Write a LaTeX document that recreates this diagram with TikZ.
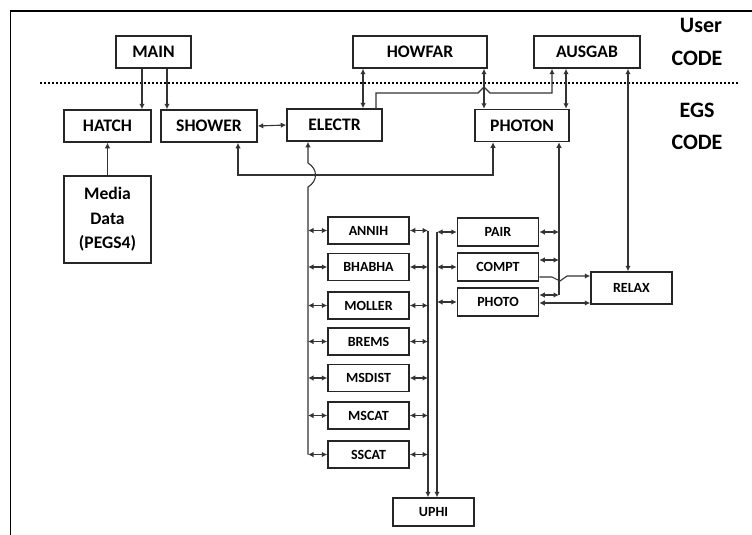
\documentclass[tikz,border=0pt]{standalone}
\usepackage{fontspec}
\setmainfont{Carlito}
\usetikzlibrary{arrows.meta,calc,positioning}

\begin{document}
\begin{tikzpicture}[x=1pt,y=-1pt,
    box/.style={draw=black!85, line width=1.5pt, minimum height=32pt, inner sep=0pt, font=\fontsize{17.6}{21}\selectfont\bfseries},
    sbox/.style={box, minimum width=81pt, minimum height=27pt, font=\fontsize{14}{17}\selectfont\bfseries},
    conn/.style={draw=black!80, line width=1.1pt},
    arr/.style={conn, -{Latex[length=5.5pt,width=5.5pt]}},
    darr/.style={conn, {Latex[length=5.5pt,width=5.5pt]}-{Latex[length=5.5pt,width=5.5pt]}},
    side/.style={font=\fontsize{22}{26}\selectfont\bfseries}]
    \useasboundingbox (0,0) rectangle (752,535);
    \draw[line width=1.8pt] (10.5,535) -- (10.5,11) -- (752,11); % Frame
    \draw[line width=1.6pt, dash pattern=on 1.6pt off 2.4pt] (40,83) -- (739,83);

    % Side labels
    \node[side] (user) at (701,25) {User};
    \node[side] (ucode) at (697,58) {CODE};
    \node[side] (egs) at (697,110) {EGS};
    \node[side] (ecode) at (697,142) {CODE};

    % User code
    \node[box, minimum width=75pt] (main) at (153.5,52) {MAIN};
    \node[box, minimum width=134pt] (howfar) at (420,52) {HOWFAR};
    \node[box, minimum width=106pt] (ausgab) at (587,52) {AUSGAB};

    % EGS code
    \node[box, minimum width=87pt] (hatch) at (107.5,126) {HATCH};
    \node[box, minimum width=96pt] (shower) at (209,126) {SHOWER};
    \node[box, minimum width=95pt] (electr) at (334.5,125) {ELECTR};
    \node[box, minimum width=94pt] (photon) at (522,125.5) {PHOTON};
    \node[box, minimum width=87pt, minimum height=87pt, align=center, font=\fontsize{17.6}{24.5}\selectfont\bfseries] (media) at (107.5,219.5) {Media\\Data\\(PEGS4)};

    % Electron routines
    \node[sbox] (annih) at (368.5,230.5) {ANNIH};
    \node[sbox] (bhabha) at (368.5,267) {BHABHA};
    \node[sbox] (moller) at (368.5,305.5) {MOLLER};
    \node[sbox] (brems) at (368.5,341.5) {BREMS};
    \node[sbox] (msdist) at (368.5,378) {MSDIST};
    \node[sbox] (mscat) at (368.5,415.5) {MSCAT};
    \node[sbox] (sscat) at (368.5,454.5) {SSCAT};

    % Photon routines
    \node[sbox, minimum height=28pt] (pair) at (498,232) {PAIR};
    \node[sbox, minimum height=28pt] (compt) at (498,267) {COMPT};
    \node[sbox, minimum height=28pt] (photo) at (498,302) {PHOTO};
    \node[sbox, minimum height=32pt] (relax) at (631.5,288) {RELAX};
    \node[sbox, minimum height=28pt] (uphi) at (433.5,512) {UPHI};

    % Calls from MAIN
    \draw[arr] (142,0 |- main.south) -- (142,0 |- hatch.north);
    \draw[arr] (167,0 |- main.south) -- (167,0 |- shower.north);
    \draw[arr] (media.north) -- (hatch.south);
    \draw[darr] (shower.east) -- (electr.west);

    % User code links
    \draw[darr] (363,0 |- electr.north) -- (363,0 |- howfar.south);
    \draw[arr] (376,0 |- electr.north) -- (376,93) -- (478,93) -- (484,87) -- (490,93) -- (552,93) -- (552,0 |- ausgab.south);
    \draw[darr] (484,0 |- photon.north) -- (484,0 |- howfar.south);
    \draw[darr] (566,0 |- photon.north) -- (566,0 |- ausgab.south);
    \draw[darr] (628,0 |- ausgab.south) -- (628,0 |- relax.north);

    % SHOWER to PHOTON
    \draw[darr] (238,0 |- shower.south) -- (238,175) -- (493,175) -- (493,0 |- photon.south);

    % Electron bus
    \draw[arr] (308,0 |- sscat.west) -- (308,187) .. controls (318,181) and (318,169) .. (308,163) -- (308,0 |- electr.south);
    \foreach \n in {annih,bhabha,moller,brems,msdist,mscat,sscat}{
        \draw[darr] (308,0 |- \n.west) -- (\n.west);
        \draw[darr] (\n.east) -- (428,0 |- \n.east);
    }
    \draw[arr] (428,0 |- annih.east) -- (428,0 |- uphi.north);

    % Photon bus
    \draw[arr] (437,0 |- pair.west) -- (437,0 |- uphi.north);
    \foreach \n in {pair,compt,photo}{
        \draw[darr] (437,0 |- \n.west) -- (\n.west);
    }
    \draw[darr] (pair.east) -- (559,0 |- pair.east);
    \draw[darr] ($(compt.east)+(0,-7)$) -- (559,260);
    \draw[darr] ($(photo.east)+(0,-7)$) -- (559,295);
    \draw[arr] (559,295) -- (559,0 |- photon.south);

    % To RELAX
    \draw[arr] (compt.east |- 0,277) -- (552,277) -- (560,281) -- (567,276) -- (relax.west |- 0,276);
    \draw[darr] (photo.east |- 0,303) -- (relax.west |- 0,303);
\end{tikzpicture}
\end{document}
